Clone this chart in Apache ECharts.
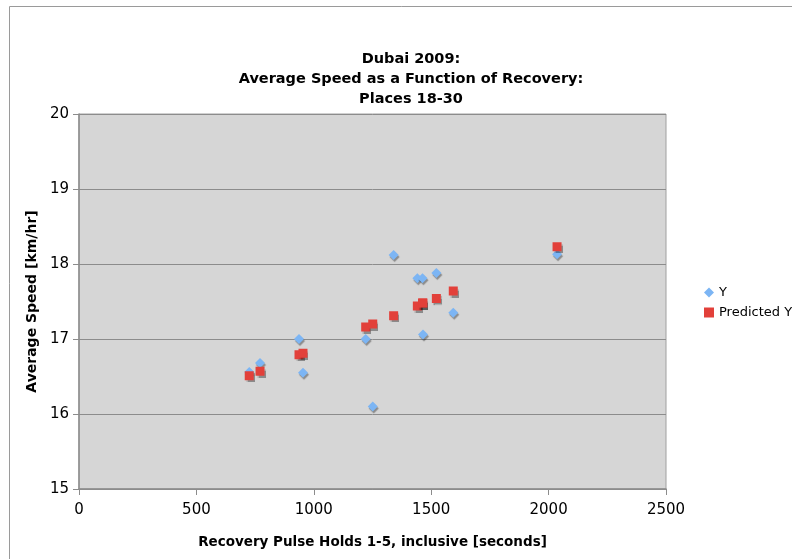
<!DOCTYPE html>
<html>
<head>
<meta charset="utf-8">
<script src="https://cdn.jsdelivr.net/npm/echarts@6/dist/echarts.min.js"></script>
<style>
  html, body { margin: 0; padding: 0; background: #fff; }
  #chart { width: 792px; height: 559px; }
</style>
</head>
<body>
<div id="chart"></div>
<script>
// recovery time (seconds) per rider, places 18-30
const recovery = [725, 771, 937, 954, 1221, 1251, 1340, 1441, 1463, 1465, 1522, 1594, 2036]
// measured average speed
const speedY = [16.56, 16.68, 17.0, 16.55, 17.0, 16.10, 18.12, 17.81, 17.81, 17.06, 17.88, 17.35, 18.13]
// regression predicted speed
const speedPred = [16.51, 16.57, 16.79, 16.81, 17.16, 17.20, 17.31, 17.44, 17.48, 17.48, 17.54, 17.64, 18.23]

const xTicks = [0, 500, 1000, 1500, 2000, 2500]
const yTicks = [15, 16, 17, 18, 19, 20]

const font = 'DejaVu Sans, Verdana, sans-serif'

const chart = echarts.init(document.getElementById('chart'))

const shadow = {
  shadowColor: 'rgba(0,0,0,0.35)',
  shadowBlur: 1,
  shadowOffsetX: 1,
  shadowOffsetY: 2
}

chart.setOption({
  animation: false,
  backgroundColor: '#fff',
  textStyle: { fontFamily: font },
  graphic: [{
    type: 'rect',
    shape: { x: 9.5, y: 6.5, width: 1000, height: 1000 },
    style: { fill: 'none', stroke: '#9a9a9a', lineWidth: 1 },
    silent: true
  }],
  title: {
    text: 'Dubai 2009:\nAverage Speed as a Function of Recovery:\nPlaces 18-30',
    left: 406,
    textAlign: 'center',
    top: 44,
    textStyle: {
      fontFamily: font,
      fontSize: 14.5,
      fontWeight: 'bold',
      color: '#000',
      lineHeight: 20
    }
  },
  legend: {
    orient: 'vertical',
    left: 699,
    top: 281,
    itemWidth: 10,
    itemHeight: 10,
    itemGap: 7,
    textStyle: { fontFamily: font, fontSize: 13, color: '#000' },
    data: [
      { name: 'Y', icon: 'diamond' },
      { name: 'Predicted Y', icon: 'rect' }
    ]
  },
  grid: {
    left: 79,
    top: 114,
    width: 587,
    height: 375,
    show: true,
    backgroundColor: '#d6d6d6',
    borderColor: '#a0a0a0',
    borderWidth: 1
  },
  xAxis: {
    type: 'value',
    min: xTicks[0],
    max: xTicks[xTicks.length - 1],
    interval: 500,
    name: 'Recovery Pulse Holds 1-5, inclusive [seconds]',
    nameLocation: 'middle',
    nameGap: 46,
    nameTextStyle: { fontFamily: font, fontSize: 13.5, fontWeight: 'bold', color: '#000' },
    axisLine: { lineStyle: { color: '#8c8c8c', width: 1.5 } },
    axisTick: { show: true, inside: false, length: 6, lineStyle: { color: '#8c8c8c' } },
    axisLabel: { fontFamily: font, fontSize: 15, color: '#000', margin: 14, formatter: v => String(v) },
    splitLine: { show: false }
  },
  yAxis: {
    type: 'value',
    min: yTicks[0],
    max: yTicks[yTicks.length - 1],
    interval: 1,
    name: 'Average Speed [km/hr]',
    nameLocation: 'middle',
    nameRotate: 90,
    nameGap: 40,
    nameTextStyle: { fontFamily: font, fontSize: 14, fontWeight: 'bold', color: '#000' },
    axisLine: { show: true, lineStyle: { color: '#8c8c8c', width: 1.5 } },
    axisTick: { show: true, inside: false, length: 6, lineStyle: { color: '#8c8c8c' } },
    axisLabel: { fontFamily: font, fontSize: 15, color: '#000', margin: 10 },
    splitLine: { show: true, lineStyle: { color: '#8c8c8c', width: 1 } }
  },
  series: [
    {
      name: 'Y',
      type: 'scatter',
      symbol: 'diamond',
      symbolSize: 10,
      itemStyle: Object.assign({ color: '#7cb5f4', opacity: 1 }, shadow),
      data: recovery.map((x, i) => [x, speedY[i]])
    },
    {
      name: 'Predicted Y',
      type: 'scatter',
      symbol: 'rect',
      symbolSize: 9,
      itemStyle: Object.assign({ color: '#e2403a', opacity: 1 }, shadow),
      data: recovery.map((x, i) => [x, speedPred[i]])
    }
  ]
})
</script>
</body>
</html>
